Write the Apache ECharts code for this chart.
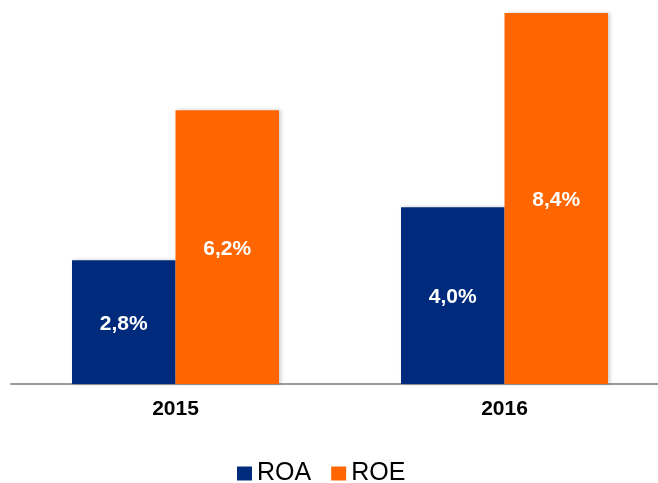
<!DOCTYPE html>
<html>
<head>
<meta charset="utf-8">
<script src="https://cdn.jsdelivr.net/npm/echarts@6/dist/echarts.min.js"></script>
<style>
  html, body { margin: 0; padding: 0; background: #fff; }
  #chart { width: 658px; height: 483px; }
</style>
</head>
<body>
<div id="chart"></div>
<script>
// data
var years = ['2015', '2016'];
var roa = [2.8, 4.0];
var roe = [6.2, 8.4];

var chart = echarts.init(document.getElementById('chart'));
var font = "'Liberation Sans', Arial, sans-serif";

function pct(p) {
  return p.value.toFixed(1).replace('.', ',') + '%';
}

var barLabel = {
  show: true,
  position: 'inside',
  offset: [0, 2],
  color: '#fff',
  fontWeight: 'bold',
  fontSize: 21,
  fontFamily: font,
  formatter: pct
};

var option = {
  animation: false,
  grid: { left: 11, width: 658, top: 13, bottom: 99, outerBoundsMode: 'none', containLabel: false },
  legend: {
    left: 232,
    top: 456,
    itemWidth: 15,
    itemHeight: 14,
    itemGap: 20,
    icon: 'rect',
    textStyle: { fontSize: 25, fontFamily: font, color: '#000' },
    data: ['ROA', 'ROE']
  },
  xAxis: {
    type: 'category',
    data: years,
    axisLine: { lineStyle: { color: '#9a9a9a', width: 2 } },
    axisTick: { show: false },
    axisLabel: { fontSize: 21, fontWeight: 'bold', color: '#000', fontFamily: font, margin: 15 }
  },
  yAxis: {
    type: 'value',
    min: 0,
    max: 8.4,
    show: false
  },
  series: [
    {
      name: 'ROA',
      type: 'bar',
      data: roa,
      barWidth: 103.5,
      barGap: '0%',
      itemStyle: { color: '#002B7D', shadowColor: 'rgba(0,0,0,0.2)', shadowBlur: 4, shadowOffsetX: 2 },
      label: barLabel
    },
    {
      name: 'ROE',
      type: 'bar',
      data: roe,
      barWidth: 103.5,
      barGap: '0%',
      itemStyle: { color: '#FF6600', shadowColor: 'rgba(0,0,0,0.2)', shadowBlur: 4, shadowOffsetX: 2 },
      label: barLabel
    }
  ]
};
chart.setOption(option);
</script>
</body>
</html>
